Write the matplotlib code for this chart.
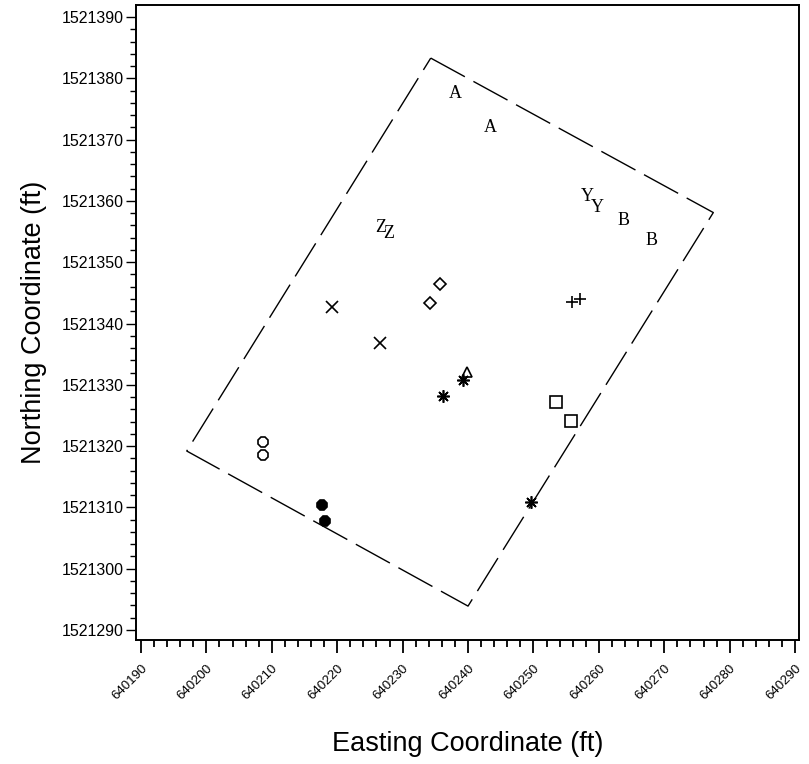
import numpy as np
import matplotlib
matplotlib.use("Agg")
import matplotlib.pyplot as plt
from matplotlib.ticker import MultipleLocator

plt.rcParams['font.family'] = ['Liberation Sans', 'DejaVu Sans']

# Plot boundary (dashed rectangle)
bound_e = [640234.3, 640277.5, 640240.0, 640197.0, 640234.3]
bound_n = [1521383.3, 1521358.1, 1521293.9, 1521319.2, 1521383.3]

# Letter-labelled sample pairs
letter_e = [640238.0, 640243.4, 640258.3, 640259.7, 640263.7, 640268.0, 640226.7, 640227.9]
letter_n = [1521377.6, 1521371.9, 1521360.7, 1521358.9, 1521356.8, 1521353.6, 1521355.7, 1521354.7]
letters = ['A', 'A', 'Y', 'Y', 'B', 'B', 'Z', 'Z']

# Symbol-marked sample pairs
diamond_e = [640235.7, 640234.2]
diamond_n = [1521346.4, 1521343.3]
cross_e = [640219.2, 640226.5]
cross_n = [1521342.7, 1521336.8]
plus_e = [640255.9, 640257.1]
plus_n = [1521343.5, 1521344.0]
tri_e = [640239.8]
tri_n = [1521332.1]
star_e = [640236.2, 640239.2, 640249.6]
star_n = [1521328.2, 1521330.8, 1521310.9]
square_e = [640253.5, 640255.7]
square_n = [1521327.2, 1521324.1]
ocircle_e = [640208.7, 640208.7]
ocircle_n = [1521320.7, 1521318.6]
fcircle_e = [640217.7, 640218.1]
fcircle_n = [1521310.4, 1521307.8]

fig = plt.figure(figsize=(8.09, 7.64), dpi=100)
ax = fig.add_axes([136/809, 124/764, 663/809, 635/764])

ax.plot(bound_e, bound_n, color='black', lw=1.0, dashes=(28, 7))

for e, n, s in zip(letter_e, letter_n, letters):
    ax.text(e, n, s, family='Liberation Serif', fontsize=13,
            ha='center', va='center')

mk = dict(color='black', ls='none', mew=1.2)
ax.plot(diamond_e, diamond_n, marker='D', ms=6, mfc='white', **mk)
ax.plot(cross_e, cross_n, marker='x', ms=8.5, **mk)
ax.plot(plus_e, plus_n, marker='+', ms=9, **mk)
ax.plot(tri_e, tri_n, marker='^', ms=7, mfc='white', **mk)
ax.plot(star_e, star_n, marker=(8, 2, 0), ms=9, **mk)
ax.plot(square_e, square_n, marker='s', ms=8.5, mfc='white', **mk)
ax.plot(ocircle_e, ocircle_n, marker='8', ms=8, mfc='white', **mk)
ax.plot(fcircle_e, fcircle_n, marker='8', ms=8.5, mfc='black', **mk)

ax.set_xlim(640189.24, 640290.6)
ax.set_ylim(1521288.37, 1521391.96)

ax.xaxis.set_major_locator(MultipleLocator(10))
ax.xaxis.set_minor_locator(MultipleLocator(2))
ax.yaxis.set_major_locator(MultipleLocator(10))
ax.yaxis.set_minor_locator(MultipleLocator(2))
ax.ticklabel_format(useOffset=False, style='plain')

for sp in ax.spines.values():
    sp.set_linewidth(1.4)

ax.tick_params(axis='x', which='major', length=9, width=1.3, direction='out', pad=7)
ax.tick_params(axis='x', which='minor', length=5, width=1.3, direction='out')
ax.tick_params(axis='y', which='major', length=7, width=1.0, direction='out',
               labelsize=11.5, pad=2)
ax.tick_params(axis='y', which='minor', length=4, width=1.0, direction='out')

for lab in ax.get_xticklabels():
    lab.set_rotation(45)
    lab.set_ha('right')
    lab.set_va('top')
    lab.set_rotation_mode('anchor')
    lab.set_fontsize(9.5)

ax.set_xlabel('Easting Coordinate (ft)', fontsize=19.5, labelpad=21)
ax.set_ylabel('Northing Coordinate (ft)', fontsize=19.5, labelpad=10)

fig.savefig('out.png', dpi=100)
